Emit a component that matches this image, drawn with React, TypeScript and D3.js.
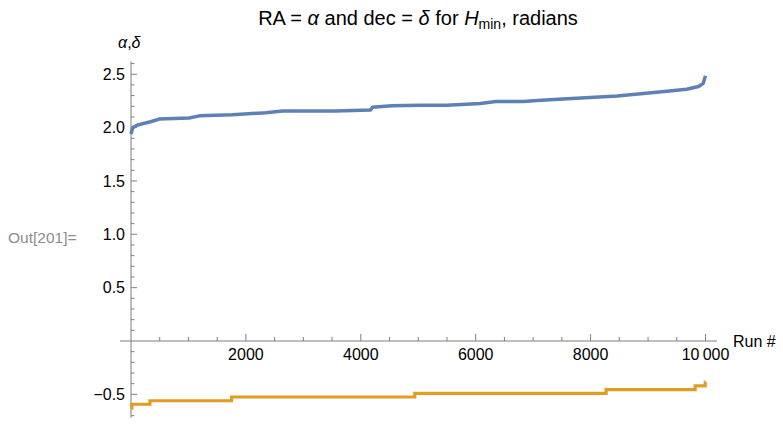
import React from 'react';
import * as d3 from 'd3';

// sorted RA (alpha) per run
const raRuns = [0, 30, 115, 340, 490, 1010, 1190, 1760, 2350, 2640, 3560, 4170, 4200, 4540, 5040, 5500, 6080, 6350, 6830, 7070, 7440, 8460, 9330, 9670, 9880, 9960, 10000];
const raValues = [1.94, 2.0, 2.025, 2.055, 2.08, 2.09, 2.11, 2.12, 2.14, 2.155, 2.155, 2.165, 2.19, 2.205, 2.21, 2.21, 2.225, 2.245, 2.245, 2.255, 2.265, 2.296, 2.34, 2.36, 2.385, 2.415, 2.485];

// dec (delta) per run, step levels
const decRuns = [0, 15, 330, 1750, 4940, 8270, 9820, 9995, 10000];
const decValues = [-0.63, -0.593, -0.56, -0.525, -0.49, -0.456, -0.42, -0.385, -0.385];

const xTicks = [2000, 4000, 6000, 8000, 10000];
const xTickLabels = ['2000', '4000', '6000', '8000', '10\u2009000'];
const yTicks = [-0.5, 0.5, 1.0, 1.5, 2.0, 2.5];
const yTickLabels = ['\u22120.5', '0.5', '1.0', '1.5', '2.0', '2.5'];

const W = 783;
const H = 425;
const font = '"Liberation Sans", Arial, sans-serif';
const axisColor = '#7f7f7f';

export default function App() {
    const x = d3.scaleLinear().domain([0, 10000]).range([131, 705.5]);
    const y = d3.scaleLinear().domain([0, 2.5]).range([341, 74.25]);

    const raData = raRuns.map((r, i) => [r, raValues[i]] as [number, number]);
    const decData = decRuns.map((r, i) => [r, decValues[i]] as [number, number]);

    const line = d3.line<[number, number]>().x(d => x(d[0])).y(d => y(d[1]));
    const stepLine = d3.line<[number, number]>().x(d => x(d[0])).y(d => y(d[1])).curve(d3.curveStepAfter);

    const xMinor = d3.range(500, 10001, 500).filter(v => v % 2000 !== 0);
    const yMinor = d3.range(-7, 27).map(v => v / 10).filter(v => Math.abs((v * 10) % 5) > 0.01);

    return (
        <svg width={W} height={H} style={{ position: 'fixed', left: 0, top: 0, background: '#fff' }} fontFamily={font}>
            {/* title */}
            <text x={418} y={25} textAnchor="middle" fontSize={20} fill="#000">
                RA = <tspan fontStyle="italic">α</tspan> and dec = <tspan fontStyle="italic">δ</tspan> for <tspan fontStyle="italic">H</tspan><tspan fontSize={14} dy={4}>min</tspan><tspan dy={-4}>, radians</tspan>
            </text>

            <text x={8} y={243} fontSize={15.5} fill="#8c8c8c">Out[201]=</text>

            {/* axes */}
            <line x1={x(0)} x2={x(0)} y1={y(2.62)} y2={y(-0.72)} stroke={axisColor} strokeWidth={1} />
            <line x1={120} x2={717} y1={y(0)} y2={y(0)} stroke={axisColor} strokeWidth={1} />

            {yTicks.map((t, i) => (
                <g key={'yt' + t}>
                    <line x1={x(0)} x2={x(0) + 6} y1={y(t)} y2={y(t)} stroke={axisColor} />
                    <text x={125} y={y(t)} dy="0.36em" textAnchor="end" fontSize={16} fill="#000">{yTickLabels[i]}</text>
                </g>
            ))}
            {yMinor.map(t => (
                <line key={'ym' + t} x1={x(0)} x2={x(0) + 3.5} y1={y(t)} y2={y(t)} stroke={axisColor} />
            ))}

            {xTicks.map((t, i) => (
                <g key={'xt' + t}>
                    <line x1={x(t)} x2={x(t)} y1={y(0)} y2={y(0) - 7} stroke={axisColor} />
                    <text x={x(t)} y={360} textAnchor="middle" fontSize={16} fill="#000">{xTickLabels[i]}</text>
                </g>
            ))}
            {xMinor.map(t => (
                <line key={'xm' + t} x1={x(t)} x2={x(t)} y1={y(0)} y2={y(0) - 4} stroke={axisColor} />
            ))}

            <text x={733} y={347} fontSize={16} fill="#000">Run #</text>
            <text x={118} y={48} fontSize={16} fontStyle="italic" fill="#000">α<tspan fontStyle="normal">,</tspan>δ</text>

            {/* data */}
            <path d={line(raData) ?? ''} fill="none" stroke="#5e81b5" strokeWidth={3.5} strokeLinejoin="round" />
            <path d={stepLine(decData) ?? ''} fill="none" stroke="#e19c24" strokeWidth={3.2} />
        </svg>
    );
}
